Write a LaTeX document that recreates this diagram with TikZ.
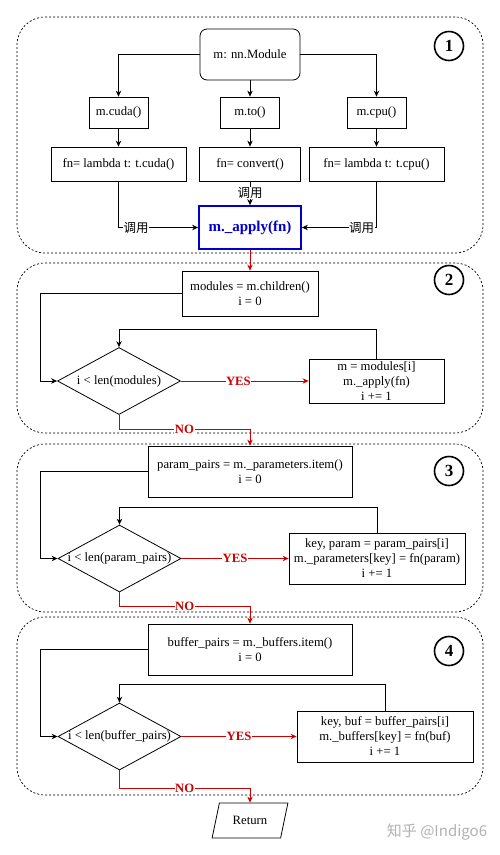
\documentclass[tikz,border=0pt]{standalone}
\usepackage{fontspec}
\setmainfont{Liberation Serif}
\newfontfamily\cjk{Noto Sans CJK SC}
\usetikzlibrary{shapes.geometric,arrows.meta}
\definecolor{myred}{HTML}{CC0000}
\definecolor{myblue}{HTML}{0000CC}
\begin{document}
\begin{tikzpicture}[x=1pt,y=-1pt,
  every node/.style={font=\fontsize{12.7}{15}\selectfont},
  box/.style={draw, line width=0.8pt, inner sep=0pt, align=center},
  arr/.style={draw, line width=0.8pt, -{Stealth[length=6pt,width=5.5pt]}},
  redarr/.style={arr, draw=myred},
  panel/.style={draw, dash pattern=on 2pt off 2pt, line width=0.7pt, rounded corners=28pt, inner sep=0pt},
  lbl/.style={fill=white, inner sep=0.5pt, font=\cjk\fontsize{12.5}{14}\selectfont},
  yn/.style={fill=white, inner sep=0.5pt, text=myred, font=\bfseries\fontsize{12.7}{15}\selectfont},
  num/.style={circle, draw, line width=1.6pt, minimum size=29pt, inner sep=0pt, font=\bfseries\fontsize{17}{17}\selectfont},
  dec/.style={diamond, draw, line width=0.8pt, inner sep=0pt, minimum width=123pt, minimum height=67pt}
]
\useasboundingbox[fill=white] (0,0) rectangle (500,855);

% panels
\node[panel, minimum width=466pt, minimum height=236pt] (p1) at (250,135) {};
\node[panel, minimum width=466pt, minimum height=170pt] (p2) at (250,348) {};
\node[panel, minimum width=466pt, minimum height=168pt] (p3) at (250,528) {};
\node[panel, minimum width=466pt, minimum height=178pt] (p4) at (250,706) {};

% panel 1
\node[box, rounded corners=7pt, minimum width=100pt, minimum height=51pt] (mod) at (250,54.5) {m: nn.Module};
\node[box, minimum width=59pt, minimum height=31pt] (cuda) at (118.5,112.5) {m.cuda()};
\node[box, minimum width=59pt, minimum height=31pt] (to) at (250,112.5) {m.to()};
\node[box, minimum width=59pt, minimum height=31pt] (cpu) at (376.5,112.5) {m.cpu()};
\node[box, minimum width=135pt, minimum height=34pt] (fcuda) at (118.5,164) {fn= lambda t: t.cuda()};
\node[box, minimum width=101pt, minimum height=34pt] (fconv) at (250,164) {fn= convert()};
\node[box, minimum width=135pt, minimum height=34pt] (fcpu) at (376.5,164) {fn= lambda t: t.cpu()};
\node[box, draw=myblue, line width=1.8pt, text=myblue, font=\bfseries\fontsize{15}{18}\selectfont, minimum width=102pt, minimum height=43pt] (apply) at (250,227.5) {m.\_apply(fn)};
\node[num] (n1) at (449,46) {1};

\draw[arr] (mod.west) -| (cuda.north);
\draw[arr] (mod.east) -| (cpu.north);
\draw[arr] (mod) -- (to);
\draw[arr] (cuda) -- (fcuda);
\draw[arr] (to) -- (fconv);
\draw[arr] (cpu) -- (fcpu);
\draw[arr] (fconv) -- node[lbl]{调用} (apply);
\draw[arr] (fcuda.south) |- node[lbl,pos=0.61]{调用} (apply.west);
\draw[arr] (fcpu.south) |- node[lbl,pos=0.6]{调用} (apply.east);

% panel 2
\node[box, minimum width=136pt, minimum height=45pt] (m2) at (250,293.5) {modules = m.children()\\ i = 0};
\node[num] (n2) at (449,280) {2};
\node[dec] (d2) at (119,381) {};
\node (t2) at (d2) {i < len(modules)};
\node[box, minimum width=135pt, minimum height=44pt] (b2) at (376.5,381) {m = modules[i]\\ m.\_apply(fn)\\ i += 1};

% panel 3
\node[box, minimum width=204pt, minimum height=51pt] (m3) at (250,471.5) {param\_pairs = m.\_parameters.item()\\ i = 0};
\node[num] (n3) at (449,471) {3};
\node[dec] (d3) at (119.5,558.5) {};
\node (t3) at (d3) {i < len(param\_pairs)};
\node[box, minimum width=176pt, minimum height=51pt] (b3) at (377,558.5) {key, param = param\_pairs[i]\\ m.\_parameters[key] = fn(param)\\ i += 1};

% panel 4
\node[box, minimum width=204pt, minimum height=51pt] (m4) at (250,649.5) {buffer\_pairs = m.\_buffers.item()\\ i = 0};
\node[num] (n4) at (449,651) {4};
\node[dec] (d4) at (119.5,736.5) {};
\node (t4) at (d4) {i < len(buffer\_pairs)};
\node[box, minimum width=176pt, minimum height=51pt] (b4) at (385,736.5) {key, buf = buffer\_pairs[i]\\ m.\_buffers[key] = fn(buf)\\ i += 1};

\node[trapezium, trapezium left angle=64, trapezium right angle=116, trapezium stretches=true, draw, line width=0.8pt, minimum width=76pt, minimum height=35pt, inner sep=0pt] (ret) at (250,820.5) {Return};

\node[text=black!30, font=\cjk\fontsize{15}{15}\selectfont] (wm) at (437,832) {知乎 @Indigo6};

% connectors
\draw[redarr] (apply) -- (m2);

\draw[arr] (m2.west) -| ([xshift=-17pt]d2.west) -- (d2.west);
\draw[arr] (b2.north) -- ++(0,-29) -| (d2.north);
\draw[redarr] (d2.east) -- node[yn,pos=0.45]{YES} (b2.west);
\draw[redarr] (d2.south) -- ++(0,14) -| node[yn,pos=0.25]{NO} (m3.north);

\draw[arr] (m3.west) -| ([xshift=-17pt]d3.west) -- (d3.west);
\draw[arr] (b3.north) -- ++(0,-25) -| (d3.north);
\draw[redarr] (d3.east) -- node[yn,pos=0.5]{YES} (b3.west);
\draw[redarr] (d3.south) -- ++(0,14) -| node[yn,pos=0.25]{NO} (m4.north);

\draw[arr] (m4.west) -| ([xshift=-17pt]d4.west) -- (d4.west);
\draw[arr] (b4.north) -- ++(0,-26) -| (d4.north);
\draw[redarr] (d4.east) -- node[yn,pos=0.5]{YES} (b4.west);
\draw[redarr] (d4.south) -- ++(0,18) -| node[yn,pos=0.25]{NO} (ret.north);
\end{tikzpicture}
\end{document}
